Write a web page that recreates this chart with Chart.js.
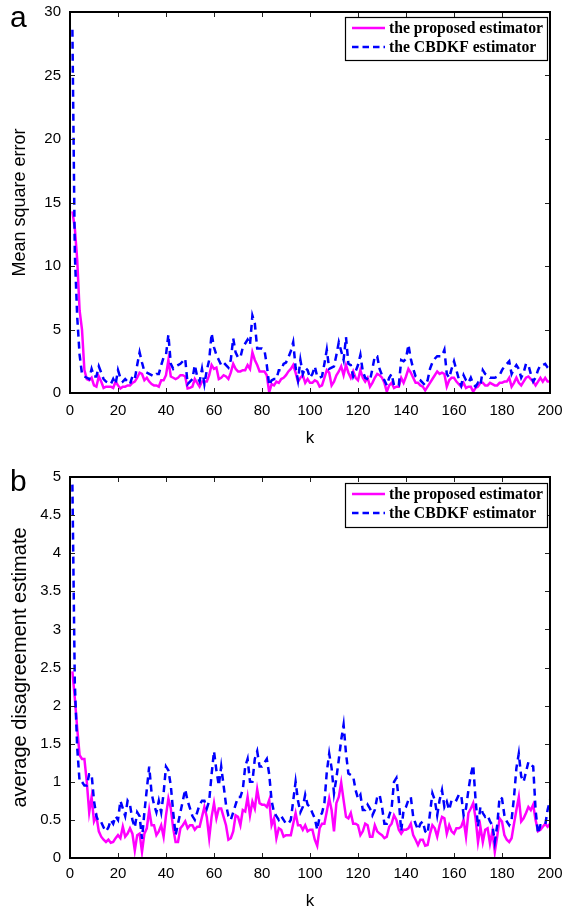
<!DOCTYPE html>
<html><head><meta charset="utf-8">
<script src="https://cdn.jsdelivr.net/npm/chart.js@4.4.1/dist/chart.umd.min.js"></script>
<style>
html,body{margin:0;padding:0;background:#fff;width:564px;height:913px;overflow:hidden;position:relative}
canvas{position:absolute;left:0}
.lbl{position:absolute;font-family:'Liberation Sans',Arial,sans-serif;font-size:30px;color:#000;line-height:30px}
</style></head><body>
<canvas id="ca" width="564" height="456" style="top:0"></canvas>
<canvas id="cb" width="564" height="457" style="top:456px"></canvas>
<div class="lbl" style="left:10px;top:2px">a</div>
<div class="lbl" style="left:10px;top:466px">b</div>
<script>
const seriesNames = ['the proposed estimator', 'the CBDKF estimator'];
const xTickLabels = ['0','20','40','60','80','100','120','140','160','180','200'];
const yTickLabelsA = ['0','5','10','15','20','25','30'];
const yTickLabelsB = ['0','0.5','1','1.5','2','2.5','3','3.5','4','4.5','5'];

// panel a: mean square error
const proposedMSE = [14.3,13.0,10.5,6.5,5.0,1.8,1.1,1.0,1.2,0.6, 0.5,1.3,0.9,0.4,0.5,0.5,0.5,0.4,0.9,0.6,
 0.35,0.5,0.5,0.6,0.6,0.8,0.9,1.2,1.6,1.5, 1.0,1.2,0.9,0.7,0.6,0.6,0.5,1.0,1.0,1.4,
 2.6,1.3,1.2,1.1,1.2,1.4,1.4,1.3,0.35,0.4, 0.5,1.1,0.8,0.5,0.9,0.9,0.9,1.4,2.2,1.9,
 2.0,1.1,1.2,1.4,1.3,1.1,1.6,2.3,1.9,1.7, 1.7,1.8,1.8,2.2,1.9,3.2,2.6,2.2,1.7,1.7,
 1.7,1.4,0.05,0.7,0.6,0.9,0.8,1.1,1.2,1.4, 1.7,1.9,2.2,1.6,0.9,1.2,1.4,0.8,1.1,0.8,
 0.8,1.0,0.9,0.5,0.6,1.2,1.8,1.6,0.6,0.9, 1.4,1.7,2.1,1.4,2.2,1.6,1.2,1.7,1.2,1.0,
 1.8,1.2,0.9,1.2,0.5,0.8,1.2,1.5,1.4,1.2, 0.8,0.1,0.6,0.8,0.4,0.5,0.5,1.2,0.8,1.3,
 1.9,1.6,1.2,0.8,0.8,0.6,0.5,0.2,0.5,0.8, 1.1,1.4,1.7,1.5,1.6,1.5,0.5,1.0,1.2,1.2,
 0.9,0.7,0.5,0.8,0.4,0.5,0.5,0.1,0.4,0.5, 0.8,0.8,0.6,0.6,0.8,0.7,0.6,0.6,0.8,0.8,
 0.9,0.9,1.2,0.5,0.8,1.2,0.8,0.6,0.9,1.2, 1.3,1.1,0.9,0.6,0.9,1.2,0.9,1.2,0.9,0.9];
const cbdkfMSE = [28.6,11.0,6.0,3.0,1.5,1.3,1.2,1.1,1.9,1.3, 1.3,2.1,1.6,1.1,0.9,0.8,0.7,1.1,0.7,1.8,
 1.2,0.9,1.1,0.9,0.7,1.3,1.1,2.2,3.2,2.4, 1.7,1.6,1.5,1.4,1.3,1.5,1.5,2.2,2.8,3.0,
 4.6,2.3,1.9,2.1,2.2,2.3,2.5,2.7,0.7,0.9, 1.1,2.2,1.3,0.9,1.9,0.7,1.8,2.6,4.7,3.6,
 3.0,2.6,2.2,2.4,2.2,2.0,2.6,4.3,3.2,2.8, 2.8,3.6,3.9,4.2,3.8,6.1,5.5,3.5,3.5,3.5,
 3.4,2.2,0.6,1.0,1.1,1.1,1.8,1.8,2.3,2.4, 2.8,3.3,4.0,2.0,1.0,2.6,1.5,2.0,1.8,1.2,
 1.5,2.1,1.3,1.2,1.3,2.3,3.4,1.9,2.0,2.1, 3.0,4.0,3.3,2.6,4.4,2.3,2.2,1.3,1.7,2.2,
 3.0,1.7,1.2,1.1,1.0,1.9,2.9,2.9,1.9,1.4, 1.0,0.6,1.2,1.5,0.6,0.6,0.6,2.6,2.5,2.7,
 3.8,2.7,1.9,1.3,1.1,1.0,0.8,0.6,1.0,1.9, 2.4,2.7,2.9,2.9,2.9,3.4,1.5,1.2,1.9,2.5,
 1.8,1.1,0.6,1.4,1.0,0.8,1.2,0.7,0.5,0.8, 0.6,1.8,1.5,1.4,1.2,1.2,1.2,1.3,1.4,1.8,
 2.1,2.3,2.5,1.5,1.9,2.2,1.9,1.2,1.6,2.3, 2.2,1.5,0.9,1.2,1.8,2.2,2.2,2.3,2.0,1.8];

// panel b: average disagreement estimate
const proposedADE = [2.45,2.1,1.7,1.35,1.3,1.3,1.0,0.6,0.8,0.48, 0.55,0.35,0.28,0.24,0.21,0.24,0.2,0.21,0.26,0.3,
 0.26,0.41,0.28,0.32,0.39,0.32,0.1,0.3,0.32,0.08, 0.32,0.39,0.63,0.43,0.43,0.3,0.35,0.43,0.28,0.56,
 0.78,0.65,0.39,0.21,0.21,0.39,0.43,0.48,0.39,0.43, 0.43,0.37,0.41,0.41,0.54,0.67,0.54,0.26,0.54,0.72,
 0.52,0.65,0.65,0.54,0.43,0.24,0.26,0.35,0.56,0.54, 0.43,0.63,0.61,0.8,0.56,0.74,0.65,0.9,0.72,0.7,
 0.7,0.67,0.76,0.43,0.52,0.26,0.39,0.37,0.28,0.3, 0.3,0.3,0.45,0.59,0.43,0.43,0.37,0.43,0.35,0.37,
 0.37,0.24,0.16,0.39,0.45,0.45,0.61,0.78,0.63,0.35, 0.72,0.8,0.99,0.76,0.54,0.52,0.59,0.45,0.45,0.43,
 0.3,0.35,0.45,0.43,0.28,0.28,0.43,0.35,0.32,0.3, 0.26,0.28,0.41,0.45,0.56,0.5,0.37,0.32,0.37,0.37,
 0.39,0.45,0.3,0.24,0.17,0.24,0.24,0.16,0.17,0.32, 0.43,0.39,0.28,0.43,0.54,0.52,0.32,0.43,0.35,0.32,
 0.39,0.39,0.41,0.5,0.28,0.59,0.65,0.72,0.52,0.21, 0.41,0.21,0.37,0.39,0.19,0.35,0.08,0.28,0.52,0.48,
 0.3,0.24,0.21,0.26,0.45,0.63,0.8,0.48,0.52,0.59, 0.67,0.63,0.7,0.5,0.35,0.37,0.41,0.45,0.41,0.45];
const cbdkfADE = [4.9,2.3,1.45,1.0,1.0,0.95,0.95,1.1,1.1,0.75, 0.55,0.47,0.47,0.4,0.35,0.4,0.5,0.45,0.55,0.5,
 0.75,0.65,0.55,0.75,0.7,0.5,0.4,0.6,0.55,0.25, 0.6,0.9,1.2,0.85,0.7,0.6,0.75,0.6,0.85,1.2,
 1.15,0.95,0.6,0.3,0.45,0.6,0.75,0.9,0.75,0.65, 0.55,0.5,0.6,0.7,0.75,0.75,0.65,0.75,1.1,1.4,
 1.15,0.95,1.2,0.95,0.7,0.55,0.5,0.6,0.7,0.8, 0.8,0.9,1.2,1.3,1.0,1.0,1.3,1.4,1.2,1.2,
 1.25,1.3,1.1,0.75,0.6,0.55,0.5,0.55,0.5,0.45, 0.45,0.5,0.75,1.0,0.75,0.6,0.67,0.83,0.7,0.67,
 0.59,0.52,0.37,0.54,0.59,0.72,1.13,1.37,1.18,0.85, 1.05,1.29,1.55,1.75,1.37,1.11,1.09,1.07,0.89,0.78,
 0.83,0.63,0.63,0.7,0.65,0.56,0.63,0.8,0.83,0.67, 0.45,0.45,0.56,0.65,1.0,1.05,0.76,0.35,0.63,0.67,
 0.76,0.8,0.54,0.45,0.37,0.45,0.48,0.35,0.32,0.59, 0.85,0.76,0.56,0.76,0.89,0.67,0.74,0.63,0.76,0.78,
 0.76,0.83,0.83,0.56,0.65,0.89,1.09,1.22,0.76,0.41, 0.67,0.59,0.54,0.56,0.48,0.43,0.21,0.43,0.8,0.78,
 0.56,0.48,0.43,0.5,0.8,1.18,1.37,1.07,1.0,1.13, 1.26,1.22,1.2,0.63,0.32,0.43,0.43,0.43,0.63,0.76];

const SANS = "'Liberation Sans', Arial, Helvetica, sans-serif";
const SERIF = "'Liberation Serif', 'Times New Roman', Times, serif";
const PINK = '#ff00ff', BLUE = '#0000ff';

const toXY = arr => arr.map((v, i) => ({x: i + 1, y: v}));

const framePlugin = {
  id: 'frame',
  afterDatasetsDraw(chart, args, opts) {
    const {ctx, chartArea: {left, right, top, bottom}, scales: {x, y}} = chart;
    ctx.save();
    ctx.strokeStyle = '#222';
    ctx.lineWidth = 1;
    ctx.beginPath();
    const tl = 5;
    x.ticks.forEach(t => {
      const px = Math.round(x.getPixelForValue(t.value)) + 0.5;
      ctx.moveTo(px, bottom); ctx.lineTo(px, bottom - tl);
      ctx.moveTo(px, top); ctx.lineTo(px, top + tl);
    });
    y.ticks.forEach(t => {
      const py = Math.round(y.getPixelForValue(t.value)) + 0.5;
      ctx.moveTo(left, py); ctx.lineTo(left + tl, py);
      ctx.moveTo(right, py); ctx.lineTo(right - tl, py);
    });
    ctx.stroke();
    ctx.strokeStyle = '#000';
    ctx.lineWidth = 2;
    ctx.strokeRect(left, top, right - left, bottom - top);

    // legend
    const b = opts.box;
    ctx.fillStyle = '#fff';
    ctx.fillRect(b.x, b.y, b.w, b.h);
    ctx.lineWidth = 1.2;
    ctx.strokeStyle = '#000';
    ctx.strokeRect(b.x + 0.5, b.y + 0.5, b.w, b.h);
    const ds = [chart.data.datasets[1], chart.data.datasets[0]];
    ds.forEach((d, i) => {
      const ry = b.y + b.rows[i];
      ctx.beginPath();
      ctx.strokeStyle = d.borderColor;
      ctx.lineWidth = 2.5;
      ctx.setLineDash(d.borderDash && d.borderDash.length ? [6.5, 4] : []);
      ctx.moveTo(b.x + 7, ry); ctx.lineTo(b.x + 40, ry);
      ctx.stroke();
      ctx.setLineDash([]);
      ctx.fillStyle = '#000';
      ctx.font = 'bold 15.7px ' + SERIF;
      ctx.textBaseline = 'middle';
      ctx.textAlign = 'left';
      ctx.fillText(d.label, b.x + 44, ry + 1);
    });
    ctx.restore();
  }
};

function makeChart(id, proposed, cbdkf, yMax, yStep, yLabels, yTitle, yTitleSize, yTitlePad, pad, xHeight, xLabPad, kPad, legendBox) {
  return new Chart(document.getElementById(id), {
    type: 'line',
    data: {
      datasets: [
        {label: seriesNames[1], data: toXY(cbdkf), borderColor: BLUE, borderWidth: 2.5, borderDash: [7, 5],
         pointRadius: 0, tension: 0, fill: false, order: 0},
        {label: seriesNames[0], data: toXY(proposed), borderColor: PINK, borderWidth: 2.5,
         pointRadius: 0, tension: 0, fill: false, order: 1}
      ]
    },
    options: {
      responsive: false,
      animation: false,
      devicePixelRatio: 1,
      layout: {padding: pad},
      plugins: {legend: {display: false}, tooltip: {enabled: false}, frame: {box: legendBox}},
      scales: {
        x: {
          type: 'linear', min: 0, max: 200,
          grid: {display: false, drawTicks: false}, border: {display: false},
          ticks: {stepSize: 20, autoSkip: false, maxRotation: 0, padding: xLabPad, color: '#000',
                  font: {family: SANS, size: 15}, callback: (v, i) => xTickLabels[i]},
          title: {display: true, text: 'k', color: '#000', font: {family: SANS, size: 17}, padding: {top: 0, bottom: kPad}},
          afterFit(s) { s.height = xHeight; s.paddingLeft = 0; s.paddingRight = 0; }
        },
        y: {
          type: 'linear', min: 0, max: yMax,
          grid: {display: false, drawTicks: false}, border: {display: false},
          ticks: {stepSize: yStep, autoSkip: false, padding: 9, color: '#000',
                  font: {family: SANS, size: 15}, callback: (v, i) => yLabels[i]},
          title: {display: true, text: yTitle, color: '#000', font: {family: SANS, size: yTitleSize}, padding: {top: yTitlePad, bottom: 0}},
          afterFit(s) { s.width = 70; s.paddingTop = 0; s.paddingBottom = 0; }
        }
      }
    },
    plugins: [framePlugin]
  });
}

makeChart('ca', proposedMSE, cbdkfMSE, 30, 5, yTickLabelsA, 'Mean square error', 18, 9.6,
  {top: 12, right: 14, left: 0, bottom: 0}, 63, 9, 7, {x: 345, y: 17, w: 202, h: 43, rows: [11, 30]});
makeChart('cb', proposedADE, cbdkfADE, 5, 0.5, yTickLabelsB, 'average disagreement estimate', 20, 8,
  {top: 21, right: 14, left: 0, bottom: 0}, 55, 7, 1, {x: 345, y: 27, w: 202, h: 44, rows: [11, 30]});
</script>
</body></html>
